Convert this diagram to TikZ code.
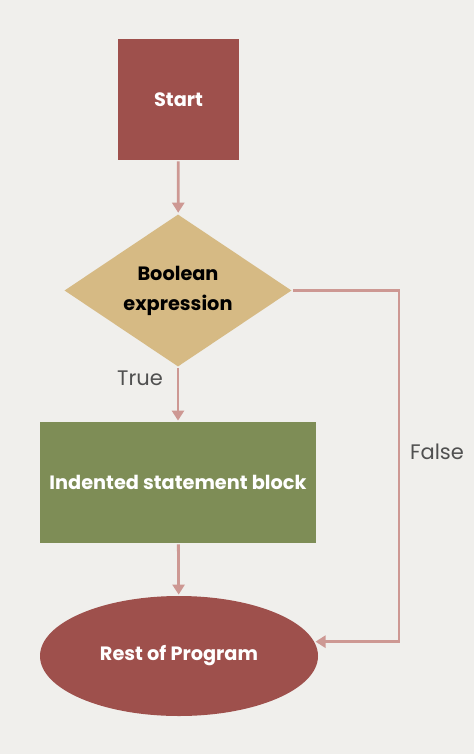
\documentclass[tikz,border=0pt]{standalone}
\usepackage{fontspec}
\setmainfont{Poppins}
\usetikzlibrary{shapes.geometric,arrows.meta}
\definecolor{paper}{RGB}{240,239,236}
\definecolor{brick}{RGB}{158,80,76}
\definecolor{sand}{RGB}{214,186,132}
\definecolor{olive}{RGB}{126,141,86}
\definecolor{flow}{RGB}{205,152,147}
\definecolor{note}{RGB}{80,80,80}
\begin{document}
\begin{tikzpicture}[x=1pt, y=-1pt, line width=2.8pt, draw=flow,
    every node/.style={font=\fontsize{19.3}{30}\selectfont\bfseries, align=center},
    block/.style={rectangle, inner sep=0pt},
    flowto/.style={-{Triangle[length=10pt,width=12pt]}},
    tag/.style={text=note, font=\fontsize{21}{24}\selectfont}]
    \fill [paper] (0,0) rectangle (474,754);
    \node [block, fill=brick, text=white, minimum width=121pt, minimum height=121pt] (start) at (178.5,99.5) {Start};
    \node [diamond, fill=sand, inner sep=-10pt, minimum width=228pt, minimum height=153pt] (cond) at (178,290.5) {Boolean\\expression};
    \node [block, fill=olive, text=white, minimum width=276pt, minimum height=121pt] (body) at (178,482.5) {Indented statement block};
    \node [ellipse, fill=brick, text=white, inner sep=0pt, minimum width=278pt, minimum height=120pt] (rest) at (179,656) {Rest of Program};
    \coordinate (turn) at (399,290.5);
    \node [tag] (true) at (140,378) {True};
    \node [tag] (false) at (437,452) {False};
    \path [flowto] (start) edge (cond);
    \path [flowto] (cond) edge (body);
    \path [flowto] (body) edge (rest);
    \draw [flowto] (cond.east) -- (turn) |- (rest.6);
\end{tikzpicture}
\end{document}
